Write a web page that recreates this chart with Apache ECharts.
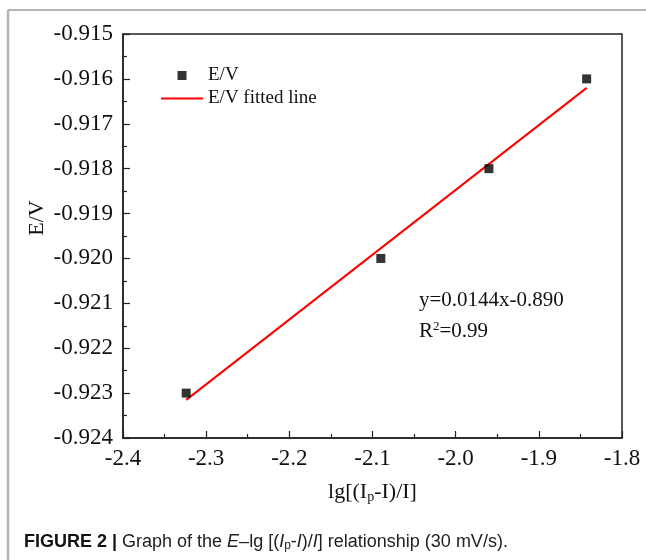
<!DOCTYPE html>
<html>
<head>
<meta charset="utf-8">
<script src="https://cdn.jsdelivr.net/npm/echarts@6/dist/echarts.min.js"></script>
<style>
  html, body { margin: 0; padding: 0; background: #fff; }
  #chart { width: 646px; height: 560px; }
</style>
</head>
<body>
<div id="chart"></div>
<script>
// Measured points: lg[(Ip-I)/I] against E (V)
const lgValues = [-2.324, -2.090, -1.960, -1.8425];
const potentials = [-0.923, -0.920, -0.918, -0.916];

// Ends of the least-squares line through the points
const fitX = [-2.324, -1.8425];
const fitY = [-0.92315, -0.9162];

// Axis ranges
const xTicks = { min: -2.4, max: -1.8, step: 0.1 };
const yTicks = { min: -0.924, max: -0.915, step: 0.001 };

const serif = 'Liberation Serif';
const sans = 'Liberation Sans';

const chart = echarts.init(document.getElementById('chart'), null, { renderer: 'canvas' });

chart.setOption({
  backgroundColor: '#fff',
  animation: false,
  grid: {
    left: 123, top: 34, right: 24, bottom: 122,
    show: true, borderColor: '#222', borderWidth: 1.5, backgroundColor: 'transparent'
  },
  legend: {
    orient: 'vertical',
    left: 156, top: 61,
    itemWidth: 42, itemHeight: 9, itemGap: 4,
    textStyle: { fontFamily: serif, fontSize: 19, color: '#111', lineHeight: 19 },
    data: [
      { name: 'E/V', icon: 'path://M0,0h10v10h-10z' },
      { name: 'E/V fitted line', icon: 'path://M0,0h42v2h-42z' }
    ]
  },
  xAxis: {
    type: 'value',
    min: xTicks.min, max: xTicks.max, interval: xTicks.step,
    axisLine: { onZero: false, lineStyle: { color: '#222', width: 1.5 } },
    axisTick: { inside: true, length: 7, lineStyle: { color: '#222', width: 1.2 } },
    minorTick: { show: true, splitNumber: 2, length: 4, lineStyle: { color: '#222', width: 1.2 } },
    splitLine: { show: false },
    axisLabel: {
      fontFamily: serif, fontSize: 23, color: '#111', margin: 9,
      formatter: v => v.toFixed(1)
    },
    name: '{t|lg[(I}{s|p}{t|-I)/I]}',
    nameLocation: 'middle',
    nameGap: 42,
    nameTextStyle: {
      rich: {
        t: { fontFamily: serif, fontSize: 22, color: '#111' },
        s: { fontFamily: serif, fontSize: 14, color: '#111', verticalAlign: 'bottom', padding: [10, 0, 0, 0] }
      }
    }
  },
  yAxis: {
    type: 'value',
    min: yTicks.min, max: yTicks.max, interval: yTicks.step,
    axisLine: { onZero: false, lineStyle: { color: '#222', width: 1.5 } },
    axisTick: { inside: true, length: 7, lineStyle: { color: '#222', width: 1.2 } },
    minorTick: { show: true, splitNumber: 2, length: 4, lineStyle: { color: '#222', width: 1.2 } },
    splitLine: { show: false },
    axisLabel: {
      fontFamily: serif, fontSize: 23, color: '#111', margin: 10,
      formatter: v => v.toFixed(3)
    }
  },
  series: [
    {
      name: 'E/V',
      type: 'scatter',
      symbol: 'rect',
      symbolSize: 9,
      itemStyle: { color: '#000' },
      data: lgValues.map((x, i) => [x, potentials[i]]),
      z: 3
    },
    {
      name: 'E/V fitted line',
      type: 'line',
      symbol: 'none',
      lineStyle: { color: '#ff0000', width: 2 },
      itemStyle: { color: '#ff0000' },
      data: fitX.map((x, i) => [x, fitY[i]]),
      z: 2
    }
  ],
  graphic: [
    // figure frame
    { type: 'line', shape: { x1: 8, y1: 10, x2: 646, y2: 10 }, style: { stroke: '#b4b4b4', lineWidth: 2 }, silent: true },
    { type: 'line', shape: { x1: 8, y1: 10, x2: 8, y2: 560 }, style: { stroke: '#b4b4b4', lineWidth: 2.5 }, silent: true },
    // y axis title
    {
      type: 'text', x: 37, y: 218, rotation: Math.PI / 2,
      style: { text: 'E/V', font: '22px "Liberation Serif"', fill: '#111', align: 'center', verticalAlign: 'middle' }
    },
    // fit equation
    {
      type: 'text', x: 419, y: 300,
      style: { text: 'y=0.0144x-0.890', font: '21px "Liberation Serif"', fill: '#111', align: 'left', verticalAlign: 'middle' }
    },
    {
      type: 'text', x: 419, y: 331,
      style: {
        text: '{t|R}{u|2}{t|=0.99}',
        align: 'left', verticalAlign: 'middle',
        rich: {
          t: { fontFamily: serif, fontSize: 21, fill: '#111' },
          u: { fontFamily: serif, fontSize: 13, fill: '#111', verticalAlign: 'top', padding: [0, 0, 8, 0] }
        }
      }
    },
    // caption
    {
      type: 'text', x: 24, y: 542,
      style: {
        text: '{b|FIGURE 2 | }{n|Graph of the }{i|E}{n|–lg [(}{i|I}{s|p}{n|-}{i|I}{n|)/}{i|I}{n|] relationship (30 mV/s).}',
        align: 'left', verticalAlign: 'middle',
        rich: {
          b: { fontFamily: sans, fontWeight: 'bold', fontSize: 18, fill: '#111' },
          n: { fontFamily: sans, fontSize: 18, fill: '#222' },
          i: { fontFamily: sans, fontStyle: 'italic', fontSize: 18, fill: '#222' },
          s: { fontFamily: sans, fontSize: 12, fill: '#222', verticalAlign: 'bottom', padding: [7, 0, 0, 0] }
        }
      }
    }
  ]
});
</script>
</body>
</html>
